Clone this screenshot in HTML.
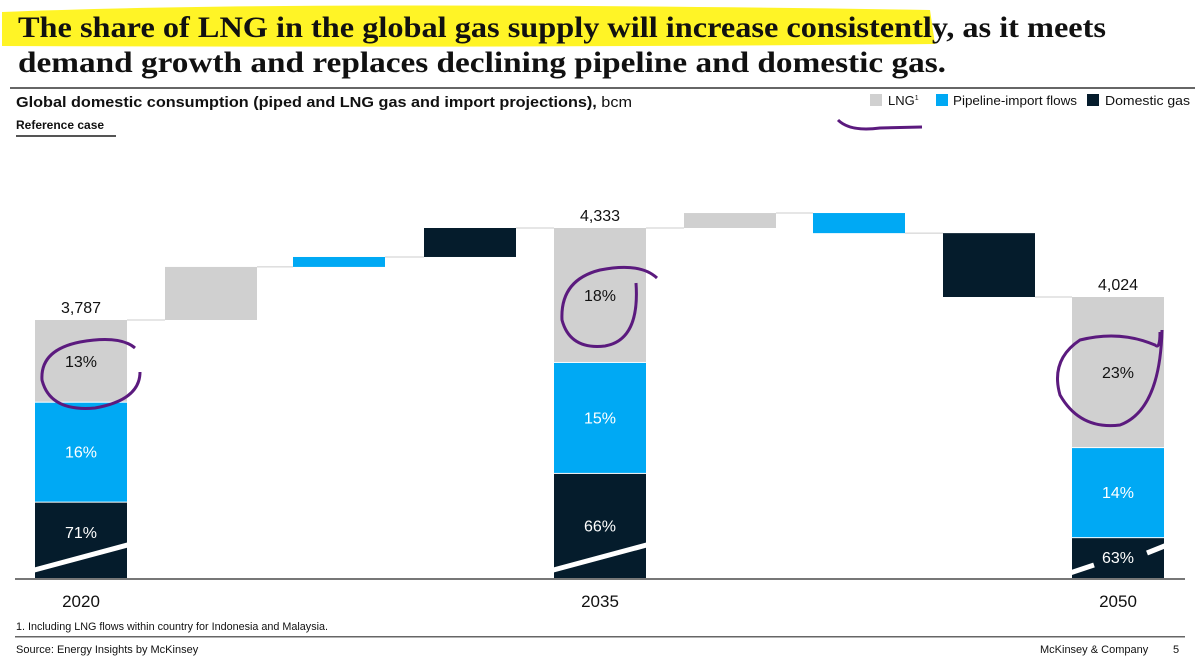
<!DOCTYPE html>
<html><head><meta charset="utf-8"><style>
body{margin:0;background:#fff;width:1200px;height:661px;overflow:hidden;font-family:"Liberation Sans",sans-serif}
svg{position:absolute;left:0;top:0}
</style></head><body>
<svg id="c" width="1200" height="661">
<path d="M2,12 Q300,0 930,10 L935,44 Q500,48 2,46 Z" fill="#fff200" opacity="0.85"/>
<text x="18" y="37" font-family="Liberation Serif,serif" font-weight="bold" font-size="30" fill="#111" textLength="1088" lengthAdjust="spacingAndGlyphs">The share of LNG in the global gas supply will increase consistently, as it meets</text>
<text x="18" y="72" font-family="Liberation Serif,serif" font-weight="bold" font-size="30" fill="#111" textLength="928" lengthAdjust="spacingAndGlyphs">demand growth and replaces declining pipeline and domestic gas.</text>
<rect x="10" y="87" width="1185" height="2" fill="#666"/>
<text x="16" y="107" font-size="15" fill="#111" textLength="616" lengthAdjust="spacingAndGlyphs"><tspan font-weight="bold">Global domestic consumption (piped and LNG gas and import projections),</tspan> bcm</text>
<text x="16" y="129" font-size="12" font-weight="bold" fill="#111">Reference case</text>
<rect x="16" y="135" width="100" height="2" fill="#555"/>
<g>
<rect x="870" y="94" width="12" height="12" fill="#d0d0d0"/>
<text x="888" y="105" font-size="13" fill="#111">LNG<tspan font-size="7" dy="-5">1</tspan></text>
<rect x="936" y="94" width="12" height="12" fill="#00a9f4"/>
<text x="953" y="105" font-size="13" fill="#111" textLength="124" lengthAdjust="spacingAndGlyphs">Pipeline-import flows</text>
<rect x="1087" y="94" width="12" height="12" fill="#051c2c"/>
<text x="1105" y="105" font-size="13" fill="#111" textLength="85" lengthAdjust="spacingAndGlyphs">Domestic gas</text>
</g>
<path d="M838,120 Q850,132 880,128 L922,127" stroke="#5b1a7e" stroke-width="3" fill="none"/>
<g id="bars"></g>
<rect x="15" y="578" width="1170" height="2" fill="#777"/>
<path d="M135,348 Q120,335 80,342 Q40,350 42,380 Q50,412 95,408 Q140,400 140,372" stroke="#5b1a7e" stroke-width="3" fill="none"/>
<path d="M657,278 Q640,262 600,270 Q560,280 562,320 Q570,350 605,346 Q640,340 636,283" stroke="#5b1a7e" stroke-width="3" fill="none"/>
<path d="M1160,332 Q1160,350 1155,345 Q1120,330 1080,340 Q1050,360 1060,395 Q1080,430 1120,425 Q1160,410 1162,330" stroke="#5b1a7e" stroke-width="3" fill="none"/>
<text x="16" y="630" font-size="11" fill="#111" textLength="312" lengthAdjust="spacingAndGlyphs">1. Including LNG flows within country for Indonesia and Malaysia.</text>
<rect x="15" y="636" width="1170" height="1.5" fill="#666"/>
<text x="16" y="653" font-size="11" fill="#111">Source: Energy Insights by McKinsey</text>
<text x="1040" y="653" font-size="11" fill="#111">McKinsey &amp; Company</text>
<text x="1173" y="653" font-size="11" fill="#111">5</text>
</svg>
<script>
const years=["2020","2035","2050"];
const totals=[3787,4333,4024];
const lngBcm=[430,705,790];
const pipeBcm=[526,584,474];
const lngShare=["13%","18%","23%"];
const pipeShare=["16%","15%","14%"];
const domShare=["71%","66%","63%"];
const deltaSeries=["lng","pipe","dom","lng","pipe","dom"];
const deltas=[315,59,172,67,-90,-286];
const colors={lng:"#d0d0d0",pipe:"#00a9f4",dom:"#051c2c"};
const BASE=578,K=0.19;
// broken axis: each period has its own linear value->pixel mapping, anchored at 4333 -> 228
function y(v,p){
  return p===0 ? 228-(v-4333)*(92/546) : 228-(v-4333)*(69/309);
}
function h(v){return v*K;}
const barX=[35,554,1072],W=92;
const stepX=[165,293,424,684,813,943];
const g=document.getElementById('bars');
const NS="http://www.w3.org/2000/svg";
function mk(tag,a){const e=document.createElementNS(NS,tag);for(const k in a)e.setAttribute(k,a[k]);g.appendChild(e);return e;}
years.forEach((yr,i)=>{
  const top=y(totals[i],i===0?0:1);const x=barX[i];
  const gB=top+h(lngBcm[i]);const pB=gB+h(pipeBcm[i]);
  let r=mk('rect',{x:x,y:top,width:W,height:gB-top,fill:colors.lng});
  
  
  r=mk('rect',{x:x,y:gB+1,width:W,height:pB-gB-1,fill:colors.pipe});
  
  
  r=mk('rect',{x:x,y:pB+1,width:W,height:BASE-pB-1,fill:colors.dom});
  
  
  const slD = i===2 ? `M${x-8},${BASE-3} L${x+22},${BASE-13} M${x+75},${BASE-25} L${x+W+8},${BASE-35}` : `M${x-8},${BASE-6} L${x+W+8},${BASE-35}`;
  const sl=mk('path',{d:slD,stroke:'#fff',"stroke-width":5,fill:'none'});
  
  
  const domY = i===2 ? 557 : (i===0 ? 532 : (pB+BASE)/2);
  const t=[[lngShare[i],(top+gB)/2,'#111'],[pipeShare[i],(gB+pB)/2,'#fff'],[domShare[i],domY,'#fff']];
  t.forEach((s,j)=>{const e=mk('text',{x:x+W/2,y:s[1]+6,"text-anchor":"middle","font-size":16,fill:s[2]});e.textContent=s[0];
    
    });
  const tl=mk('text',{x:x+W/2,y:top-7,"text-anchor":"middle","font-size":16,fill:'#111'});tl.textContent=totals[i].toLocaleString('en-US');
  
  
  const xl=mk('text',{x:x+W/2,y:607,"text-anchor":"middle","font-size":17,fill:'#111'});xl.textContent=yr;
  
  
});
let level=totals[0];
deltas.forEach((d,i)=>{
  const p = i<3 ? 0 : 1;
  if(i==3)level=totals[1];
  const prevRight=(i==0||i==3)?barX[i==0?0:1]+W:stepX[i-1]+W;
  const ln=mk('line',{x1:prevRight,x2:stepX[i],y1:y(level,p),y2:y(level,p),stroke:'#ccc',"stroke-width":1});
  
  
  const a=y(level,p),b=y(level+d,p);
  const r=mk('rect',{x:stepX[i],y:Math.min(a,b),width:W,height:Math.abs(a-b),fill:colors[deltaSeries[i]]});
  
  
  level+=d;
  if(i==2||i==5){const bi=i==2?1:2;const l2=mk('line',{x1:stepX[i]+W,x2:barX[bi],y1:y(level,p),y2:y(level,p),stroke:'#ccc',"stroke-width":1});
    
    }
});
</script>
</body></html>
